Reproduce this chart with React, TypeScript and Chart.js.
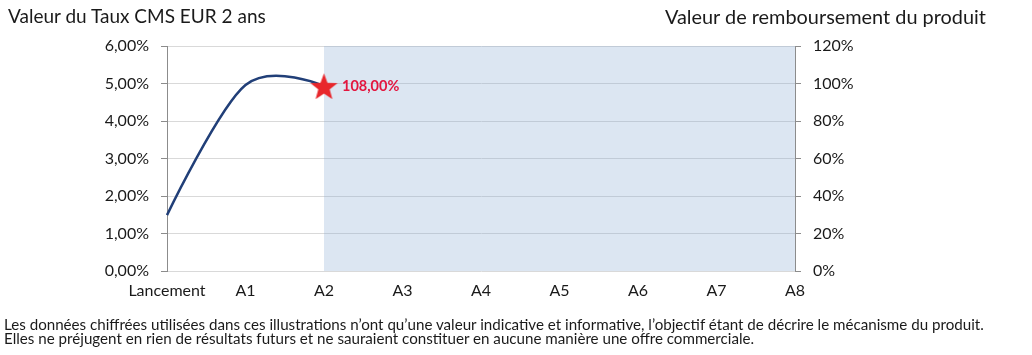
import React, { useEffect, useRef } from "react";
import { Chart, registerables } from "chart.js";

Chart.register(...registerables);

const categories = ["Lancement", "A1", "A2", "A3", "A4", "A5", "A6", "A7", "A8"];
const cmsRate = [1.49, 4.96, 4.93, null, null, null, null, null, null];
const pointLabels = [null, null, "108,00%", null, null, null, null, null, null];
const projectionZone = [null, null, 120, 120, 120, 120, 120, 120, 120];
const leftTitle = "Valeur du Taux CMS EUR 2 ans";
const rightTitle = "Valeur de remboursement du produit";
const footnote1 =
  "Les données chiffrées utilisées dans ces illustrations n’ont qu’une valeur indicative et informative, l’objectif étant de décrire le mécanisme du produit.";
const footnote2 =
  "Elles ne préjugent en rien de résultats futurs et ne sauraient constituer en aucune manière une offre commerciale.";

const FONT = "Lato, 'Open Sans', sans-serif";

function makeStar(w: number, h: number, color: string) {
  const c = document.createElement("canvas");
  c.width = w;
  c.height = h;
  const ctx = c.getContext("2d")!;
  const cx = w / 2;
  const cy = h / 2 + 1.5;
  const outer = Math.min(w, h * 1.1) / 2;
  const inner = outer * 0.42;
  ctx.beginPath();
  for (let i = 0; i < 10; i++) {
    const r = i % 2 === 0 ? outer : inner;
    const a = -Math.PI / 2 + (i * Math.PI) / 5;
    const x = cx + r * Math.cos(a);
    const y = cy + r * Math.sin(a);
    if (i === 0) ctx.moveTo(x, y);
    else ctx.lineTo(x, y);
  }
  ctx.closePath();
  ctx.fillStyle = color;
  ctx.fill();
  return c;
}

// Office-style smoothing: inner tangents = (next - prev) / 6, end tangents collapsed
const officeSmoothPlugin = {
  id: "officeSmooth",
  beforeDatasetDraw(chart: any, args: any) {
    if (args.index !== 0) return;
    const meta = args.meta;
    const line = meta.dataset;
    line.updateControlPoints(chart.chartArea, meta.iScale.axis);
    const pts = meta.data.filter((p: any) => !p.skip);
    const n = pts.length;
    for (let i = 0; i < n; i++) {
      const p = pts[i];
      const prev = i > 0 ? pts[i - 1] : p;
      const next = i < n - 1 ? pts[i + 1] : p;
      const k = 1 / 6;
      const dx = i > 0 && i < n - 1 ? (next.x - prev.x) * k : 0;
      const dy = i > 0 && i < n - 1 ? (next.y - prev.y) * k : 0;
      p.cp1x = p.x - dx;
      p.cp1y = p.y - dy;
      p.cp2x = p.x + dx;
      p.cp2y = p.y + dy;
    }
    line._path = undefined;
  },
};

const labelPlugin = {
  id: "pointTextLabels",
  afterDatasetsDraw(chart: any) {
    const meta = chart.getDatasetMeta(0);
    const ctx = chart.ctx;
    ctx.save();
    ctx.font = `bold 14.5px ${FONT}`;
    ctx.fillStyle = "#e3163f";
    ctx.textAlign = "left";
    ctx.textBaseline = "middle";
    pointLabels.forEach((t, i) => {
      if (!t) return;
      const el = meta.data[i];
      if (!el) return;
      ctx.fillText(t, el.x + 18, el.y);
    });
    ctx.restore();
  },
};

export default function App() {
  const ref = useRef<HTMLCanvasElement>(null);

  useEffect(() => {
    if (!ref.current) return;
    const star = makeStar(29, 26, "#e8272c");
    const chart = new Chart(ref.current, {
      type: "line",
      data: {
        labels: categories,
        datasets: [
          {
            data: cmsRate,
            yAxisID: "y",
            borderColor: "#213f78",
            borderWidth: 2.5,
            tension: 0.4,
            fill: false,
            pointRadius: [0, 0, 6, 0, 0, 0, 0, 0, 0],
            pointHoverRadius: 0,
            pointStyle: ["circle", "circle", star, "circle", "circle", "circle", "circle", "circle", "circle"] as any,
            spanGaps: false,
          },
          {
            data: projectionZone,
            yAxisID: "y2",
            borderWidth: 0,
            borderColor: "rgba(0,0,0,0)",
            backgroundColor: "rgba(138,172,212,0.3)",
            fill: "origin",
            pointRadius: 0,
            tension: 0,
          },
        ],
      },
      options: {
        animation: false,
        responsive: false,
        maintainAspectRatio: false,
        events: [],
        layout: { padding: { top: 46, left: 0, right: 0, bottom: 0 } },
        plugins: {
          legend: { display: false },
          tooltip: { enabled: false },
          title: { display: false },
        },
        scales: {
          x: {
            type: "category",
            offset: false,
            grid: { display: false, drawTicks: false },
            border: { display: false },
            ticks: {
              padding: 10,
              color: "#1a1a1a",
              font: { family: FONT, size: 16 },
              maxRotation: 0,
              autoSkip: false,
            },
            afterFit: (s: any) => {
              s.height = 84;
            },
          },
          y: {
            position: "left",
            min: 0,
            max: 6,
            ticks: {
              stepSize: 1,
              padding: 12,
              color: "#1a1a1a",
              font: { family: FONT, size: 16 },
              callback: (v: any) => Number(v).toFixed(2).replace(".", ",") + "%",
            },
            grid: { color: "#d9d9d9", tickColor: "#8c8c8c", tickLength: 6, lineWidth: 1 },
            border: { display: true, color: "#8c8c8c", width: 1 },
            afterFit: (s: any) => {
              s.width = 167;
            },
          },
          y2: {
            position: "right",
            min: 0,
            max: 120,
            ticks: {
              stepSize: 20,
              padding: 12,
              color: "#1a1a1a",
              font: { family: FONT, size: 16 },
              callback: (v: any) => Math.round(Number(v)) + "%",
            },
            grid: { drawOnChartArea: false, tickColor: "#8c8c8c", tickLength: 6 },
            border: { display: true, color: "#8c8c8c", width: 1 },
            afterFit: (s: any) => {
              s.width = 237;
            },
          },
        },
      },
      plugins: [officeSmoothPlugin, labelPlugin],
    });
    return () => chart.destroy();
  }, []);

  return (
    <div
      style={{
        position: "absolute",
        left: 0,
        top: 0,
        width: 1032,
        height: 355,
        background: "#ffffff",
        overflow: "hidden",
        fontFamily: FONT,
        color: "#1a1a1a",
      }}
    >
      <canvas ref={ref} width={1032} height={355} style={{ position: "absolute", left: 0, top: 0 }} />
      <div style={{ position: "absolute", left: 8, top: 5, fontSize: 19, lineHeight: "22px", whiteSpace: "nowrap" }}>
        {leftTitle}
      </div>
      <div
        style={{
          position: "absolute",
          right: 46,
          top: 5,
          fontSize: 19.9,
          lineHeight: "22px",
          whiteSpace: "nowrap",
          textAlign: "right",
        }}
      >
        {rightTitle}
      </div>
      <div
        style={{
          position: "absolute",
          left: 4,
          top: 318,
          fontSize: 15.15,
          lineHeight: "13.5px",
          whiteSpace: "nowrap",
        }}
      >
        <div>{footnote1}</div>
        <div>{footnote2}</div>
      </div>
    </div>
  );
}
